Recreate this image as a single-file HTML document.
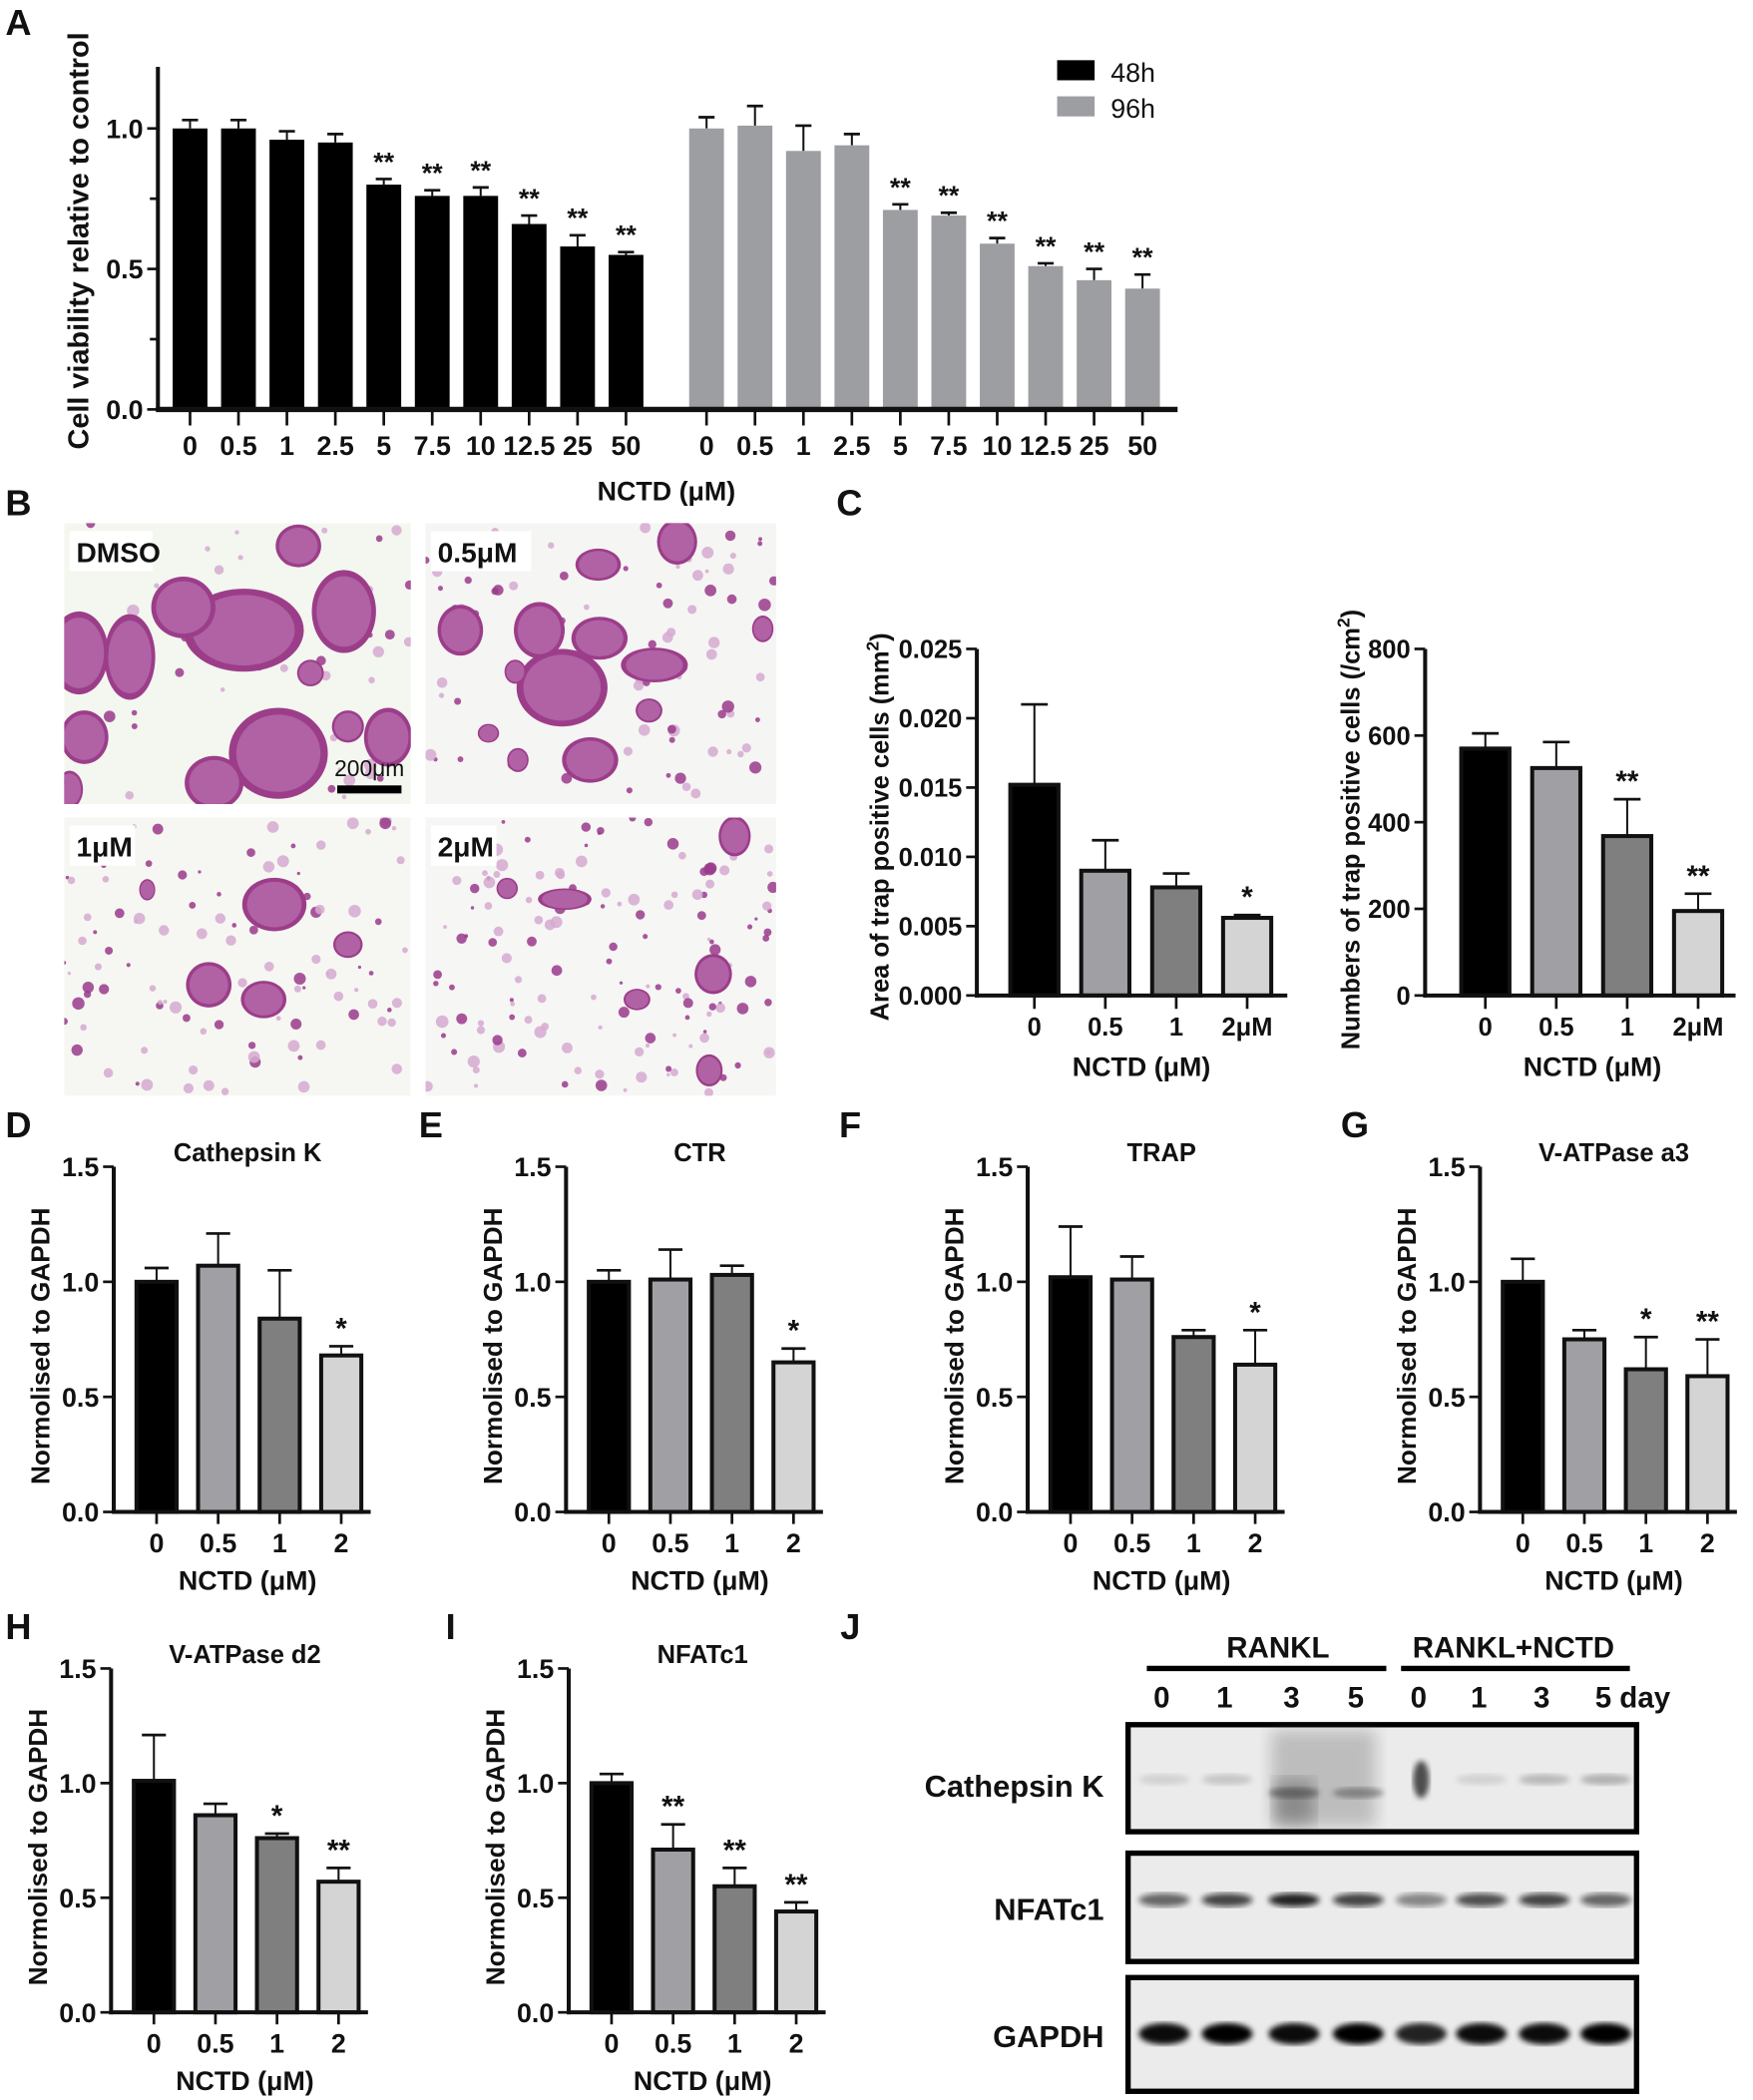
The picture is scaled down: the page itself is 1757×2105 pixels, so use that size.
<!DOCTYPE html>
<html><head><meta charset="utf-8">
<style>
html,body{margin:0;padding:0;background:#fff;}
svg{display:block;}
text{font-family:"Liberation Sans",Arial,sans-serif;font-weight:bold;fill:#111;}
.n{font-family:"Liberation Sans Narrow","Liberation Sans",sans-serif;}
</style></head>
<body>
<svg id="fig" xmlns="http://www.w3.org/2000/svg" width="1757" height="2105" viewBox="0 0 1310 1569.5">
<defs>
<filter id="blur2"><feGaussianBlur stdDeviation="2.2"/></filter>
<filter id="blur6"><feGaussianBlur stdDeviation="6"/></filter>
</defs>
<g id="root"></g>
</svg>
<script>
// ---------- Panel A data ----------
var aCats = ["0","0.5","1","2.5","5","7.5","10","12.5","25","50"];
var a48Vals = [1.0,1.0,0.96,0.95,0.80,0.76,0.76,0.66,0.58,0.55];
var a48Errs = [0.03,0.03,0.03,0.03,0.02,0.02,0.03,0.03,0.04,0.01];
var a48Stars = ["","","","","**","**","**","**","**","**"];
var a96Vals = [1.0,1.01,0.92,0.94,0.71,0.69,0.59,0.51,0.46,0.43];
var a96Errs = [0.04,0.07,0.09,0.04,0.02,0.01,0.02,0.01,0.04,0.05];
var a96Stars = ["","","","","**","**","**","**","**","**"];
var aTicks = ["0.0","0.5","1.0"];
// ---------- Panel C data ----------
var cCats = ["0","0.5","1","2μM"];
var cAreaVals = [0.0152,0.0090,0.0078,0.0056];
var cAreaErrs = [0.0058,0.0022,0.0010,0.0002];
var cAreaStars = ["","","","*"];
var cAreaTicks = ["0.000","0.005","0.010","0.015","0.020","0.025"];
var cNumVals = [570,525,368,195];
var cNumErrs = [35,60,85,40];
var cNumStars = ["","","**","**"];
var cNumTicks = ["0","200","400","600","800"];
// ---------- Panels D-I data ----------
var qCats = ["0","0.5","1","2"];
var qTicks = ["0.0","0.5","1.0","1.5"];
var dVals=[1.0,1.07,0.84,0.68], dErrs=[0.06,0.14,0.21,0.04], dStars=["","","","*"];
var eVals=[1.0,1.01,1.03,0.65], eErrs=[0.05,0.13,0.04,0.06], eStars=["","","","*"];
var fVals=[1.02,1.01,0.76,0.64], fErrs=[0.22,0.10,0.03,0.15], fStars=["","","","*"];
var gVals=[1.0,0.75,0.62,0.59], gErrs=[0.10,0.04,0.14,0.16], gStars=["","","*","**"];
var hVals=[1.01,0.86,0.76,0.57], hErrs=[0.20,0.05,0.02,0.06], hStars=["","","*","**"];
var iVals=[1.0,0.71,0.55,0.44], iErrs=[0.04,0.11,0.08,0.04], iStars=["","**","**","**"];
// ---------- Panel J lanes ----------
var jLanes = ["0","1","3","5","0","1","3","5 day"];
var jCathInt = [0.15,0.22,0.6,0.5,0.95,0.15,0.3,0.35];
var jNfatInt = [0.6,0.75,0.9,0.75,0.45,0.7,0.75,0.6];
var jGapdhInt = [0.95,1,0.95,1,0.85,0.95,0.95,1.0];

var NS="http://www.w3.org/2000/svg";
var root=document.getElementById('root');
function mk(tag,attrs,parent){var e=document.createElementNS(NS,tag);for(var k in attrs)e.setAttribute(k,attrs[k]);(parent||root).appendChild(e);return e;}
function txt(s,x,y,size,anchor,parent,cls){var t=mk('text',{x:x,y:y,'font-size':size,'text-anchor':anchor||'middle'},parent);if(cls)t.setAttribute('class',cls);t.textContent=s;return t;}

function letter(s,x,y){var t=txt(s,x,y,27,'start');}

function barChart(o){
  var g=mk('g',{});
  
  
  function y(v){return o.y0-(v-o.vmin)/(o.vmax-o.vmin)*(o.y0-o.y1);}
  for(var s=0;s<o.series.length;s++){
    var sr=o.series[s];
    for(var i=0;i<sr.vals.length;i++){
      var cx=sr.xs[i], v=sr.vals[i], e=sr.errs[i];
      var top=y(v+e), yt=y(v);
      var el=mk('line',{x1:cx,x2:cx,y1:yt,y2:top,stroke:'#111','stroke-width':1.5},g);
      
      
      var cap=mk('line',{x1:cx-o.cap,x2:cx+o.cap,y1:top,y2:top,stroke:'#111','stroke-width':2},g);
      
      
      var fill=sr.colors?sr.colors[i]:sr.color;
      var r=mk('rect',{x:cx-o.bw/2,y:yt,width:o.bw,height:o.y0-yt,fill:fill,stroke:o.outline?'#111':'none','stroke-width':o.outline?3:0},g);
      
      
      if(sr.stars[i]){var st=txt(sr.stars[i],cx,top-6,o.starSize,'middle',g);}
      var tk=mk('line',{x1:cx,x2:cx,y1:o.y0,y2:o.y0+o.tickLen,stroke:'#111','stroke-width':2},g);
      
      
      var lb=txt(o.cats[i],cx,o.labY,o.labSize,'middle',g,o.narrow?'n':'');
      
      
    }
  }
  var ya=mk('line',{x1:o.x0,x2:o.x0,y1:o.yTop,y2:o.y0+1.5,stroke:'#111','stroke-width':3},g);
  
  
  var xa=mk('line',{x1:o.x0-1.5,x2:o.xEnd,y1:o.y0,y2:o.y0,stroke:'#111','stroke-width':o.xw||3},g);
  
  
  for(var k=0;k<o.ticks.length;k++){
    var tv=parseFloat(o.ticks[k]), ty=y(tv);
    var t=mk('line',{x1:o.x0-8,x2:o.x0,y1:ty,y2:ty,stroke:'#111','stroke-width':2},g);
    
    
    var tl=txt(o.ticks[k],o.x0-11,ty+o.labSize*0.36,o.labSize,'end',g,o.narrow?'n':'');
    
    
  }
  if(o.minor){for(var m=0;m<o.minor.length;m++){var my=y(o.minor[m]);var ml=mk('line',{x1:o.x0-6,x2:o.x0,y1:my,y2:my,stroke:'#111','stroke-width':2},g);}}
  if(o.title){var tt=txt(o.title,o.titleX,o.titleY,19,'middle',g);}
  var yt2=mk('text',{x:0,y:0,'font-size':o.yTitleSize||19,'text-anchor':'middle',transform:'translate('+o.yTitleX+','+o.yTitleY+') rotate(-90)'},g);
  yt2.innerHTML=o.yTitle;
  
  
  if(o.xTitle){var xt=txt(o.xTitle,o.xTitleX,o.xTitleY,20,'middle',g);}
}

// ---------- Panel A ----------
letter('A',4,26);
var xs48=[],xs96=[];for(var i=0;i<10;i++){xs48.push(142+i*36.2);xs96.push(528+i*36.2);}
barChart({name:'viability-chart',x0:118,xEnd:880,y0:306,y1:96,yTop:50,vmin:0,vmax:1,bw:26,cap:6,tickLen:12,xw:4,
 labY:340,labSize:20,narrow:true,starSize:20,cats:aCats,ticks:aTicks,minor:[0.25,0.75],
 series:[{key:'48h-',vals:a48Vals,errs:a48Errs,stars:a48Stars,xs:xs48,color:'#000'},
         {key:'96h-',vals:a96Vals,errs:a96Errs,stars:a96Stars,xs:xs96,color:'#9d9ea2'}],
 yTitle:'Cell viability relative to control',yTitleX:66,yTitleY:180,yTitleSize:21.5,
 xTitle:'NCTD (μM)',xTitleX:498,xTitleY:374});
(function(){var lg=mk('g',{});
var r1=mk('rect',{x:790,y:45,width:28,height:15,fill:'#000'},lg);
var t1=txt('48h',830,61,20,'start',lg,'n');t1.style.fontWeight='normal';
var r2=mk('rect',{x:790,y:72,width:28,height:15,fill:'#9d9ea2'},lg);
var t2=txt('96h',830,88,20,'start',lg,'n');t2.style.fontWeight='normal';})();

// ---------- Panel B (micrographs) ----------
letter('B',4,385);
var seed=7;function rnd(){seed=(seed*16807)%2147483647;return seed/2147483647;}
var photos=[{x:48,y:391,w:259,h:210,lab:'DMSO',n:70,bg:'#f3f7ef',
  big:[[182,471,45,31],[208,563,37,34],[137,454,24,23],[97,491,19,32],[59,488,22,31],[257,457,24,31],[223,408,17,16],[63,551,18,20],[160,585,22,20],[290,551,18,22],[260,543,12,12],[232,503,10,10],[52,590,10,14]]},
 {x:318,y:391,w:262,h:210,lab:'0.5μM',n:90,bg:'#f5f5f3',
  big:[[420,514,34,29],[403,471,19,21],[448,477,21,16],[489,497,25,13],[344,471,17,19],[441,568,21,17],[447,422,17,12],[506,405,15,17],[385,502,8,9],[365,548,8,7],[387,568,8,9],[485,531,10,9],[570,470,8,10]]},
 {x:48,y:611,w:259,h:208,lab:'1μM',n:110,bg:'#f6f7f2',
  big:[[205,676,24,20],[156,736,17,17],[197,747,17,14],[260,706,11,10],[110,665,6,8]]},
 {x:318,y:611,w:262,h:208,lab:'2μM',n:140,bg:'#f6f6f4',
  big:[[476,747,10,8],[533,728,14,15],[422,672,20,8],[549,625,12,15],[379,664,8,8],[530,800,10,12]]}];
photos.forEach(function(p,pi){
  var g=mk('g',{});
  mk('clipPath',{id:'cp'+pi},g).appendChild((function(){var r=document.createElementNS(NS,'rect');r.setAttribute('x',p.x);r.setAttribute('y',p.y);r.setAttribute('width',p.w);r.setAttribute('height',p.h);return r;})());
  var inner=mk('g',{'clip-path':'url(#cp'+pi+')'},g);
  mk('rect',{x:p.x,y:p.y,width:p.w,height:p.h,fill:p.bg},inner);
  for(var k=0;k<p.n;k++){var cx=p.x+rnd()*p.w,cy=p.y+rnd()*p.h,r=1.2+rnd()*3.5;
    mk('circle',{cx:cx,cy:cy,r:r,fill:rnd()<0.5?'#9a3a8c':'#d5a9d0',opacity:0.85},inner);}
  p.big.forEach(function(b){
    mk('ellipse',{cx:b[0],cy:b[1],rx:b[2],ry:b[3],fill:'#9c3d8a'},inner);
    mk('ellipse',{cx:b[0],cy:b[1],rx:b[2]*0.85,ry:b[3]*0.85,fill:'#b062a4'},inner);
  });
  var lw=p.lab.length*13+10;
  var box=mk('rect',{x:p.x+4,y:p.y+6,width:lw,height:30,fill:'#fff'},g);
  var t=txt(p.lab,p.x+9,p.y+29,21,'start',g);
});
(function(){var sb=mk('rect',{x:252,y:587,width:48,height:6,fill:'#000'});
var st=txt('200μm',276,580,17,'middle');st.style.fontWeight='normal';})();

// ---------- Panel C ----------
letter('C',625,385);
var cCols=['#000','#a0a0a4','#7f7f7f','#d4d4d4'];
barChart({name:'trap-area-chart',x0:730,xEnd:962,y0:744,y1:485,yTop:485,vmin:0,vmax:0.025,bw:36,cap:10,tickLen:10,
 labY:774,labSize:19,starSize:22,cats:cCats,ticks:cAreaTicks,outline:true,
 series:[{vals:cAreaVals,errs:cAreaErrs,stars:cAreaStars,xs:[773,826,879,932],colors:cCols}],
 yTitle:'Area of trap positive cells (mm<tspan baseline-shift="super" font-size="13">2</tspan>)',yTitleX:664,yTitleY:618,yTitleSize:19,
 xTitle:'NCTD (μM)',xTitleX:853,xTitleY:804});
barChart({name:'trap-count-chart',x0:1065,xEnd:1297,y0:744,y1:485,yTop:485,vmin:0,vmax:800,bw:36,cap:10,tickLen:10,
 labY:774,labSize:19,starSize:22,cats:cCats,ticks:cNumTicks,outline:true,
 series:[{vals:cNumVals,errs:cNumErrs,stars:cNumStars,xs:[1110,1163,1216,1269],colors:cCols}],
 yTitle:'Numbers of trap positive cells (/cm<tspan baseline-shift="super" font-size="13">2</tspan>)',yTitleX:1016,yTitleY:620,yTitleSize:19,
 xTitle:'NCTD (μM)',xTitleX:1190,xTitleY:804});

// ---------- Panels D-I ----------
function qChart(name,L,lx,ly,x0,y0,y1,vals,errs,stars,title){
  letter(L,lx,ly);
  var xs=[x0+32,x0+78,x0+124,x0+170];
  barChart({name:name,x0:x0,xEnd:x0+192,y0:y0,y1:y1,yTop:y1,vmin:0,vmax:1.5,bw:30,cap:9,tickLen:9,
   labY:y0+30,labSize:20,narrow:true,starSize:22,cats:qCats,ticks:qTicks,outline:true,
   series:[{vals:vals,errs:errs,stars:stars,xs:xs,colors:cCols}],
   title:title,titleX:x0+100,titleY:y1-4,
   yTitle:'Normolised to GAPDH',yTitleX:x0-48,yTitleY:(y0+y1)/2+5,yTitleSize:19.5,
   xTitle:'NCTD (μM)',xTitleX:x0+100,xTitleY:y0+58});
}
qChart('cathepsin-k-chart','D',4,850,85,1130,872,dVals,dErrs,dStars,'Cathepsin K');
qChart('ctr-chart','E',313,850,423,1130,872,eVals,eErrs,eStars,'CTR');
qChart('trap-chart','F',627,850,768,1130,872,fVals,fErrs,fStars,'TRAP');
qChart('v-atpase-a3-chart','G',1002,850,1106,1130,872,gVals,gErrs,gStars,'V-ATPase a3');
qChart('v-atpase-d2-chart','H',4,1225,83,1504,1247,hVals,hErrs,hStars,'V-ATPase d2');
qChart('nfatc1-chart','I',333,1225,425,1504,1247,iVals,iErrs,iStars,'NFATc1');

// ---------- Panel J (western blot) ----------
letter('J',628,1225);
(function(){
  var g=mk('g',{});
  var l1=mk('line',{x1:857,x2:1036,y1:1247,y2:1247,stroke:'#000','stroke-width':4},g);
  var l2=mk('line',{x1:1047,x2:1218,y1:1247,y2:1247,stroke:'#000','stroke-width':4},g);
  var t1=txt('RANKL',955,1239,22,'middle',g);
  var t2=txt('RANKL+NCTD',1131,1239,22,'middle',g);
  var lx=[868,915,965,1013,1060,1105,1152,1198];
  for(var i=0;i<jLanes.length;i++){var t=txt(jLanes[i],lx[i]-6,1276,22,'start',g);}
  var rows=[{n:'Cathepsin K',y:1289,h:80,ly:1343,by:1330,int:jCathInt,ry:4,col:'#444'},
            {n:'NFATc1',y:1385,h:81,ly:1435,by:1420,int:jNfatInt,ry:5,col:'#111'},
            {n:'GAPDH',y:1478,h:85,ly:1530,by:1520,int:jGapdhInt,ry:8,col:'#000'}];
  rows.forEach(function(r,ri){
    var bx=mk('rect',{x:843,y:r.y,width:380,height:r.h,fill:'#ebebeb',stroke:'#000','stroke-width':4},g);
    
    
    if(ri===0){
      var sm=mk('rect',{x:950,y:1293,width:78,height:72,fill:'#555',opacity:0.3,filter:'url(#blur6)'},g);
      var sm2=mk('rect',{x:952,y:1330,width:30,height:34,fill:'#333',opacity:0.35,filter:'url(#blur6)'},g);
    }
    for(var i=0;i<8;i++){
      var cx=lx[i]+2, by=r.by;
      if(ri===0&&(i===2||i===3))by=1340;
      var rx=19, ry=r.ry;
      if(ri===0&&i===4){rx=6;ry=14;}
      var b=mk('ellipse',{cx:cx,cy:by,rx:rx,ry:ry,fill:r.col,opacity:r.int[i],filter:'url(#blur2)'},g);
      
      
    }
    var lb=txt(r.n,825,r.ly,23,'end',g);
  });
})();
</script>
</body></html>
